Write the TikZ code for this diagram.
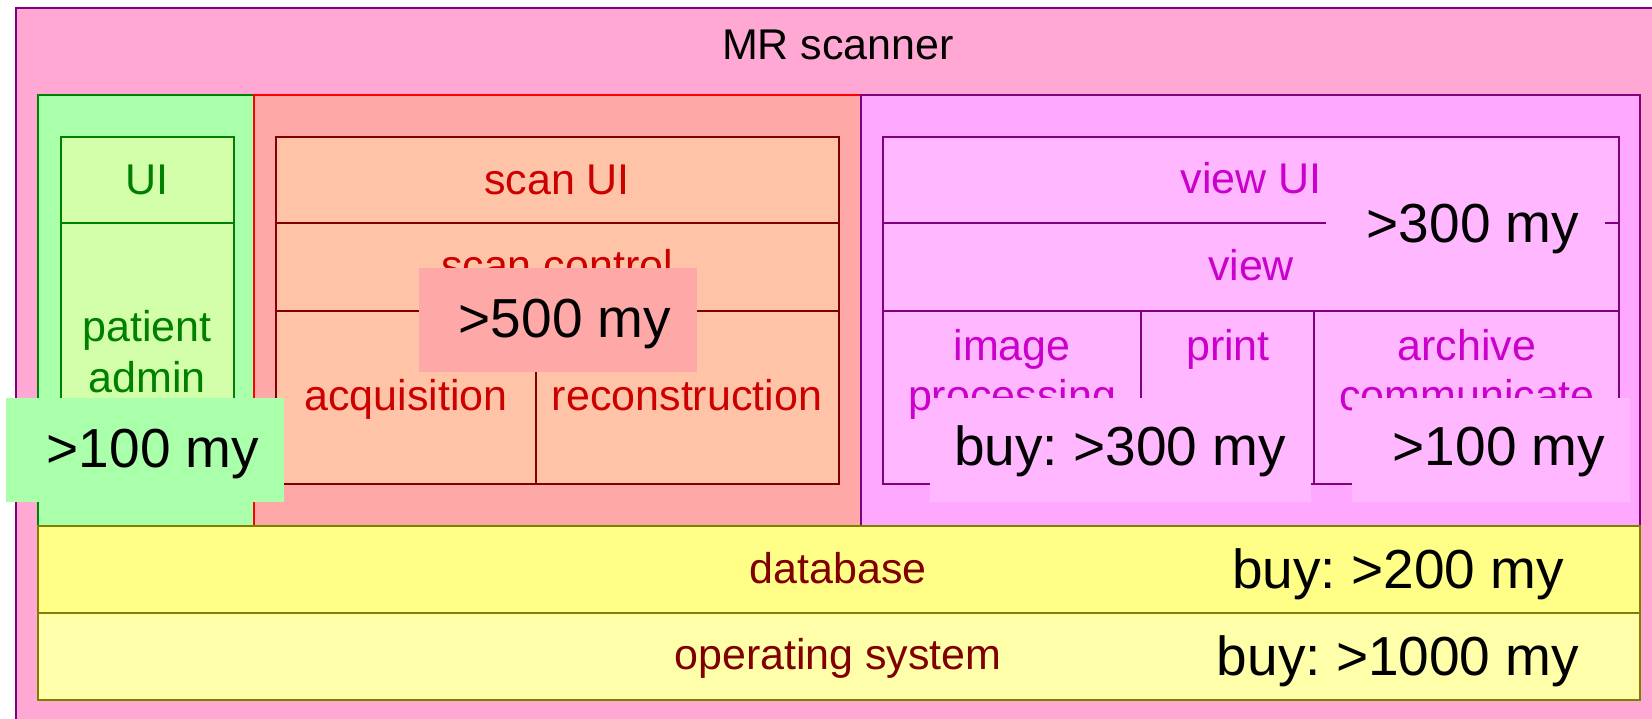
\documentclass[tikz,border=0pt]{standalone}
\usepackage{fontspec}
\setmainfont{Liberation Sans}
\usetikzlibrary{positioning}
\frenchspacing

\definecolor{outerfill}{HTML}{FFA8D4}
\definecolor{purpleline}{HTML}{800080}
\definecolor{greenblk}{HTML}{AAFFAA}
\definecolor{greenline}{HTML}{008000}
\definecolor{greenin}{HTML}{D4FFAA}
\definecolor{redblk}{HTML}{FFA8A8}
\definecolor{redline}{HTML}{FF0000}
\definecolor{darkred}{HTML}{800000}
\definecolor{redin}{HTML}{FFC4A8}
\definecolor{redtext}{HTML}{CC0000}
\definecolor{magblk}{HTML}{FFA8FF}
\definecolor{magin}{HTML}{FFB8FF}
\definecolor{magtext}{HTML}{CC00CC}
\definecolor{dbfill}{HTML}{FFFF88}
\definecolor{osfill}{HTML}{FFFFAA}
\definecolor{oliveline}{HTML}{808000}

\begin{document}
\begin{tikzpicture}[x=0.5pt,y=-0.5pt,
  small/.style={font=\fontsize{21.5}{25}\selectfont,anchor=base,inner sep=0pt},
  big/.style={font=\fontsize{27.5}{32}\selectfont,anchor=base,inner sep=0pt},
  blk/.style={line width=1pt}]
 \useasboundingbox (0,0) rectangle (1652,718);
 \clip (0,0) rectangle (1652,718);
 % scanner
 \draw[blk,draw=purpleline,fill=outerfill](16,8) rectangle (1700,760);
 \node (mr) [small] at (838,59) {MR scanner};
 % blocks
 \draw[blk,draw=greenline,fill=greenblk](38,95) rectangle (254,526);
 \draw[blk,draw=redline,fill=redblk](254,95) rectangle (861,526);
 \draw[blk,draw=purpleline,fill=magblk](861,95) rectangle (1640,526);
 \draw[blk,draw=oliveline,fill=dbfill](38,526) rectangle (1640,613);
 \draw[blk,draw=oliveline,fill=osfill](38,613) rectangle (1640,700);
 % patient admin block
 \draw[blk,draw=greenline,fill=greenin](61,137) rectangle (234,223);
 \draw[blk,draw=greenline,fill=greenin](61,223) rectangle (234,484);
 \node (ui) [small,text=greenline] at (147,194) {UI};
 \node (patient) [small,text=greenline] at (147,341) {patient};
 \node (admin) [small,text=greenline] at ([yshift=-25.5pt]patient.base) {admin};
 % scan block
 \draw[blk,draw=darkred,fill=redin](276,137) rectangle (839,484);
 \draw[blk,draw=darkred](276,223) -- (839,223);
 \draw[blk,draw=darkred](276,311) -- (839,311);
 \draw[blk,draw=darkred](536,311) -- (536,484);
 \node (scanui) [small,text=redtext] at (557,194) {scan UI};
 \node (scanctl) [small,text=redtext] at (557,280) {scan control};
 \node (acq) [small,text=redtext] at (406,410) {acquisition};
 \node (recon) [small,text=redtext] at (687,410) {reconstruction};
 % view block
 \draw[blk,draw=purpleline,fill=magin](883,137) rectangle (1619,484);
 \draw[blk,draw=purpleline](883,223) -- (1619,223);
 \draw[blk,draw=purpleline](883,311) -- (1619,311);
 \draw[blk,draw=purpleline](1141,311) -- (1141,484);
 \draw[blk,draw=purpleline](1314,311) -- (1314,484);
 \node (viewui) [small,text=magtext] at (1251,193) {view UI};
 \node (view) [small,text=magtext] at (1251,280) {view};
 \node (image) [small,text=magtext] at (1012,360) {image};
 \node (proc) [small,text=magtext] at ([yshift=-25pt]image.base) {processing};
 \node (print) [small,text=magtext] at (1228,360) {print};
 \node (archive) [small,text=magtext] at (1467,360) {archive};
 \node (comm) [small,text=magtext] at ([yshift=-25pt]archive.base) {communicate};
 % platform
 \node (db) [small,text=darkred] at (838,583) {database};
 \node (os) [small,text=darkred] at (838,669) {operating system};
 % estimates
 \fill[greenblk](6,398) rectangle (284,502);
 \node (estpa) [big] at (153,467) {>100 my};
 \fill[redblk](419,268) rectangle (697,372);
 \node (estscan) [big] at (565,337) {>500 my};
 \fill[magin](1326,171) rectangle (1605,275);
 \node (estview) [big] at (1473,242) {>300 my};
 \fill[magin](930,398) rectangle (1311,502);
 \node (estimg) [big] at (1120,465) {buy: >300 my};
 \fill[magin](1352,398) rectangle (1630,502);
 \node (estarch) [big] at (1499,465) {>100 my};
 \node (estdb) [big] at (1398,588) {buy: >200 my};
 \node (estos) [big] at (1398,675) {buy: >1000 my};
\end{tikzpicture}
\end{document}
